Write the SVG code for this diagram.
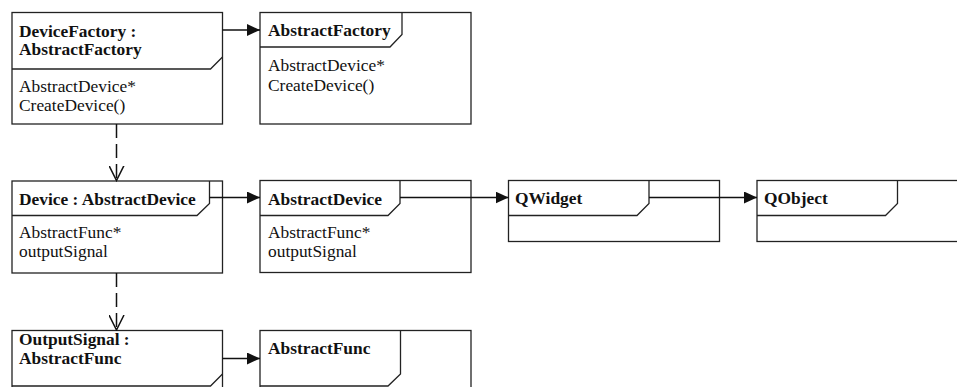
<svg xmlns="http://www.w3.org/2000/svg" width="957" height="387" viewBox="0 0 957 387">
<style>
.box{fill:#fff;stroke:#222;stroke-width:1.3}
.tab{fill:none;stroke:#222;stroke-width:1.3}
.t{font-family:"Liberation Serif","Times New Roman",serif;font-size:17.4px;fill:#111}
.b{font-weight:bold}
.line{fill:none;stroke:#111;stroke-width:1.5}
.dash{stroke-dasharray:14 6}
</style>
<defs>
<marker id="tri" viewBox="0 0 13 12" refX="13" refY="6" markerWidth="13" markerHeight="12" markerUnits="userSpaceOnUse" orient="auto">
<path d="M0,0 L13,6 L0,12 z" fill="#111"/>
</marker>
<marker id="vee" viewBox="0 0 16 16" refX="15" refY="8" markerWidth="16" markerHeight="16" markerUnits="userSpaceOnUse" orient="auto">
<path d="M0,0.5 L15,8 L0,15.5" fill="none" stroke="#111" stroke-width="1.5" stroke-dasharray="none"/>
</marker>
</defs>
<rect width="957" height="387" fill="#fff"/>
<g id="n-devicefactory">
<rect class="box" x="12" y="12.5" width="210.5" height="111.5"/>
<path class="tab" d="M222.5,57 L210.5,69 H12"/>
<text class="t b" x="19" y="36.5">DeviceFactory :</text>
<text class="t b" x="19" y="55">AbstractFactory</text>
<text class="t" x="19" y="92">AbstractDevice*</text>
<text class="t" x="19" y="111">CreateDevice()</text>
</g>
<g id="n-abstractfactory">
<rect class="box" x="260" y="12.5" width="211" height="111.5"/>
<path class="tab" d="M402,12.5 V34.5 L390,47 H260"/>
<text class="t b" x="268" y="36">AbstractFactory</text>
<text class="t" x="268" y="71">AbstractDevice*</text>
<text class="t" x="268" y="91">CreateDevice()</text>
</g>
<g id="n-device">
<rect class="box" x="12" y="181" width="210.5" height="92"/>
<path class="tab" d="M209.5,181 V203.5 L197,215.5 H12"/>
<text class="t b" x="19" y="205">Device : AbstractDevice</text>
<text class="t" x="19" y="237.5">AbstractFunc*</text>
<text class="t" x="19" y="257">outputSignal</text>
</g>
<g id="n-abstractdevice">
<rect class="box" x="260" y="180.5" width="211" height="92"/>
<path class="tab" d="M400,180.5 V203.5 L388,215.5 H260"/>
<text class="t b" x="268" y="204.5">AbstractDevice</text>
<text class="t" x="268" y="237.5">AbstractFunc*</text>
<text class="t" x="268" y="257">outputSignal</text>
</g>
<g id="n-qwidget">
<rect class="box" x="508.5" y="180.5" width="211" height="61"/>
<path class="tab" d="M649,180.5 V203.5 L637,215.5 H508.5"/>
<text class="t b" x="515" y="204">QWidget</text>
</g>
<g id="n-qobject">
<rect class="box" x="757" y="180.5" width="220" height="61"/>
<path class="tab" d="M897.5,180.5 V203.5 L885.5,215.5 H757"/>
<text class="t b" x="764" y="204">QObject</text>
</g>
<g id="n-outputsignal">
<rect class="box" x="12" y="330.5" width="210.5" height="80"/>
<path class="tab" d="M222.5,374 L210.5,386 H12"/>
<text class="t b" x="19" y="345">OutputSignal :</text>
<text class="t b" x="19" y="364">AbstractFunc</text>
</g>
<g id="n-abstractfunc">
<rect class="box" x="260" y="330.5" width="211" height="80"/>
<path class="tab" d="M400.5,330.5 V374 L388,386 H260"/>
<text class="t b" x="268" y="353.5">AbstractFunc</text>
</g>
<g id="connectors">
<path class="line" d="M222.5,30 H260" marker-end="url(#tri)"/>
<path class="line" d="M209.5,197.5 H260" marker-end="url(#tri)"/>
<path class="line" d="M400,197.5 H508.5" marker-end="url(#tri)"/>
<path class="line" d="M649,197.5 H757" marker-end="url(#tri)"/>
<path class="line" d="M222.5,358.5 H260" marker-end="url(#tri)"/>
<path class="line dash" d="M116.5,124 V180.5" marker-end="url(#vee)"/>
<path class="line dash" d="M116.5,273 V330" marker-end="url(#vee)"/>
</g>
</svg>
